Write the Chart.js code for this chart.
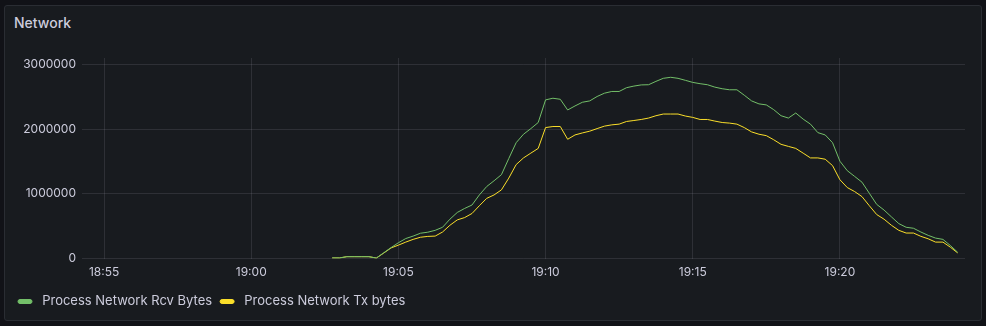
<!DOCTYPE html>
<html>
<head>
<meta charset="utf-8">
<script src="https://cdn.jsdelivr.net/npm/chart.js@4.4.1/dist/chart.umd.min.js"></script>
<style>
  html, body { margin: 0; padding: 0; background: #111217; }
  #panel {
    position: absolute; left: 4px; top: 5px; width: 976px; height: 314px;
    background: #181b1f; border: 1px solid #2a2d33; border-radius: 3px;
  }
  #title {
    position: absolute; left: 14px; top: 14px;
    font: 500 14px Inter, sans-serif; color: #ccccdc;
  }
  #chart { position: absolute; left: 0; top: 0; }
</style>
</head>
<body>
<div id="panel"></div>
<div id="title">Network</div>
<canvas id="chart" width="986" height="326"></canvas>
<script>
// samples every 15 s starting 19:02:45 (minutes after 18:00)
const startMinute = 62.75;
const stepMinutes = 0.25;

const rcvBytes = [
  10000, 10000, 30000, 30000, 30000, 30000, 8000, 90000, 170000, 245000,
  310000, 348000, 392000, 408000, 437000, 484000, 609000, 713000, 775000, 828000,
  984000, 1114000, 1203000, 1297000, 1547000, 1791000, 1922000, 2009000, 2103000, 2453000,
  2478000, 2462000, 2297000, 2359000, 2416000, 2437000, 2505000, 2556000, 2583000, 2583000,
  2641000, 2666000, 2684000, 2687000, 2739000, 2786000, 2802000, 2786000, 2755000, 2723000,
  2703000, 2687000, 2650000, 2625000, 2609000, 2609000, 2525000, 2437000, 2391000, 2375000,
  2302000, 2208000, 2172000, 2250000, 2156000, 2078000, 1947000, 1911000, 1791000, 1505000,
  1359000, 1270000, 1181000, 1009000, 838000, 750000, 645000, 541000, 484000, 469000,
  411000, 359000, 317000, 297000, 203000, 98000
];

const txBytes = [
  10000, 10000, 30000, 30000, 30000, 30000, 8000, 85000, 165000, 208000,
  255000, 297000, 330000, 343000, 348000, 411000, 515000, 598000, 634000, 697000,
  817000, 931000, 984000, 1062000, 1244000, 1453000, 1556000, 1630000, 1703000, 2025000,
  2041000, 2041000, 1844000, 1911000, 1942000, 1969000, 2009000, 2047000, 2067000, 2078000,
  2119000, 2134000, 2150000, 2172000, 2208000, 2234000, 2234000, 2234000, 2203000, 2182000,
  2150000, 2150000, 2125000, 2103000, 2094000, 2078000, 2025000, 1958000, 1922000, 1900000,
  1837000, 1766000, 1734000, 1703000, 1630000, 1556000, 1556000, 1536000, 1437000, 1219000,
  1098000, 1036000, 958000, 817000, 681000, 609000, 515000, 437000, 395000, 395000,
  344000, 306000, 255000, 255000, 177000, 88000
];

const seriesNames = ['Process Network Rcv Bytes', 'Process Network Tx bytes'];
const seriesColors = ['#73bf69', '#fade2a'];
const yTicks = [0, 1000000, 2000000, 3000000];
// tick positions in minutes after 18:00 -> 18:55 ... 19:20
const xTicks = [55, 60, 65, 70, 75, 80];

function toPoints(values) {
  return values.map((v, i) => ({ x: startMinute + i * stepMinutes, y: v }));
}

function fmtTime(m) {
  const h = 18 + Math.floor(m / 60);
  const mm = Math.round(m % 60);
  return h + ':' + String(mm).padStart(2, '0');
}

Chart.defaults.font.family = 'Inter, sans-serif';
Chart.defaults.font.size = 12;
Chart.defaults.color = '#ccccdc';

const gridColor = 'rgba(204, 204, 220, 0.12)';

new Chart(document.getElementById('chart'), {
  type: 'line',
  data: {
    datasets: [
      { label: seriesNames[0], data: toPoints(rcvBytes), borderColor: seriesColors[0], backgroundColor: seriesColors[0] },
      { label: seriesNames[1], data: toPoints(txBytes), borderColor: seriesColors[1], backgroundColor: seriesColors[1] }
    ]
  },
  options: {
    responsive: false,
    animation: false,
    elements: {
      line: { borderWidth: 1, tension: 0 },
      point: { radius: 0 }
    },
    layout: { padding: { left: 10, right: 21, top: 58, bottom: 8 } },
    scales: {
      x: {
        type: 'linear',
        min: 54.25,
        max: 84.25,
        border: { display: false },
        grid: { color: gridColor, drawTicks: false },
        afterBuildTicks: (scale) => { scale.ticks = xTicks.map(v => ({ value: v })); },
        ticks: {
          padding: 7,
          maxRotation: 0,
          callback: (v) => fmtTime(v)
        }
      },
      y: {
        min: 0,
        max: 3100000,
        border: { display: false },
        grid: { color: gridColor, drawTicks: false },
        afterBuildTicks: (scale) => { scale.ticks = yTicks.map(v => ({ value: v })); },
        afterFit: (scale) => { scale.width = 72; },
        ticks: {
          padding: 6,
          callback: (v) => String(v)
        }
      }
    },
    plugins: {
      tooltip: { enabled: false },
      legend: {
        position: 'bottom',
        align: 'start',
        labels: {
          boxWidth: 14,
          boxHeight: 4,
          useBorderRadius: true,
          borderRadius: 2,
          padding: 8,
          color: '#ccccdc',
          font: { size: 13 },
          // a bit more room between marker and text, like the original
          generateLabels: (chart) => Chart.defaults.plugins.legend.labels.generateLabels(chart)
            .map(l => Object.assign(l, { text: ' ' + l.text }))
        }
      }
    }
  }
});
</script>
</body>
</html>
